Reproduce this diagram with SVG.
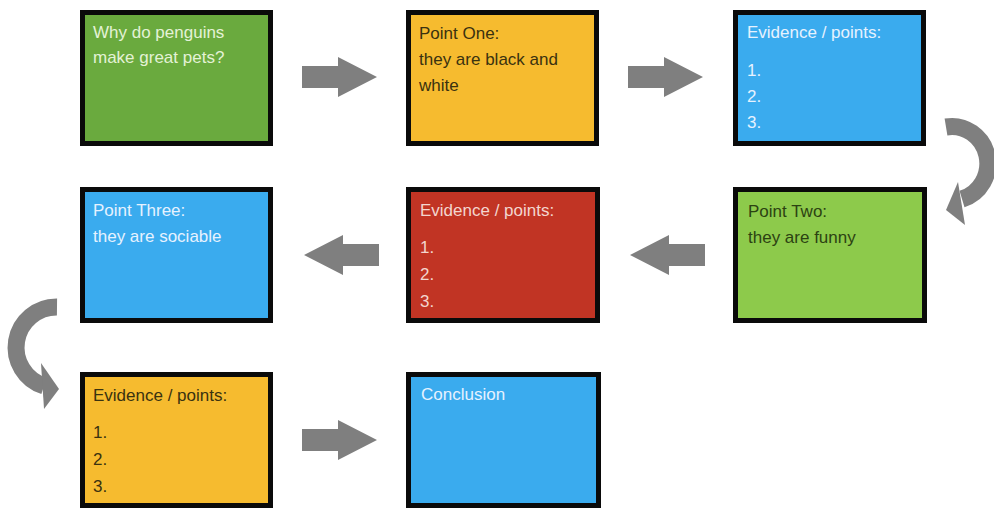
<svg xmlns="http://www.w3.org/2000/svg" width="994" height="531" viewBox="0 0 994 531">
  <style>
    .box { stroke: #0a0a0a; stroke-width: 5; }
    .t { font-family: "Liberation Sans", Arial, sans-serif; font-size: 17px; }
    .light { fill: #e6f2ff; }
    .dark { fill: #3a3210; }
    .arrow { fill: #7f7f7f; }
    .curve { fill: none; stroke: #7f7f7f; stroke-width: 17; }
  </style>
  <defs>
    <polygon id="arrowR" points="0,-11 36,-11 36,-20 75,0 36,20 36,11 0,11"/>
  </defs>
  <rect width="994" height="531" fill="#ffffff"/>

  <g id="connectors">
    <use href="#arrowR" class="arrow" transform="translate(302,77)"/>
    <use href="#arrowR" class="arrow" transform="translate(628,77)"/>
    <use href="#arrowR" class="arrow" transform="translate(379,255) scale(-1,1)"/>
    <use href="#arrowR" class="arrow" transform="translate(705,255) scale(-1,1)"/>
    <use href="#arrowR" class="arrow" transform="translate(302,440)"/>
    <!-- right curved arrow -->
    <path class="curve" d="M946,127 A36,37 0 0 1 962,199"/>
    <polygon class="arrow" points="958,182 946,210 965,225"/>
    <!-- left curved arrow -->
    <path class="curve" d="M57,307 A40.5,40.5 0 0 0 44,386"/>
    <polygon class="arrow" points="41,363 59,389 44,409"/>
  </g>

  <g id="node-question">
    <rect class="box" x="82.5" y="12.5" width="188" height="131" fill="#6aaa3e"/>
    <text class="t" x="93" y="38" fill="#e4f2d6">Why do penguins</text>
    <text class="t" x="93" y="63" fill="#e4f2d6">make great pets?</text>
  </g>

  <g id="node-point-one">
    <rect class="box" x="408.5" y="12.5" width="188" height="131" fill="#f6bb2f"/>
    <text class="t dark" x="419" y="39">Point One:</text>
    <text class="t dark" x="419" y="65">they are black and</text>
    <text class="t dark" x="419" y="91">white</text>
  </g>

  <g id="node-evidence-1">
    <rect class="box" x="735.5" y="12.5" width="188" height="131" fill="#3aabee"/>
    <text class="t light" x="747" y="38">Evidence / points:</text>
    <text class="t light" x="747" y="76">1.</text>
    <text class="t light" x="747" y="102">2.</text>
    <text class="t light" x="747" y="128">3.</text>
  </g>

  <g id="node-point-two">
    <rect class="box" x="735.5" y="189.5" width="189" height="131" fill="#8dca4b"/>
    <text class="t" x="748" y="217" fill="#2c4212">Point Two:</text>
    <text class="t" x="748" y="243" fill="#2c4212">they are funny</text>
  </g>

  <g id="node-evidence-2">
    <rect class="box" x="408.5" y="189.5" width="189" height="131" fill="#c13424"/>
    <text class="t" x="420" y="216" fill="#f3d6cf">Evidence / points:</text>
    <text class="t" x="420" y="253" fill="#f3d6cf">1.</text>
    <text class="t" x="420" y="280" fill="#f3d6cf">2.</text>
    <text class="t" x="420" y="307" fill="#f3d6cf">3.</text>
  </g>

  <g id="node-point-three">
    <rect class="box" x="82.5" y="189.5" width="188" height="131" fill="#3aabee"/>
    <text class="t light" x="93" y="216">Point Three:</text>
    <text class="t light" x="93" y="242">they are sociable</text>
  </g>

  <g id="node-evidence-3">
    <rect class="box" x="82.5" y="374.5" width="188" height="131" fill="#f6bb2f"/>
    <text class="t dark" x="93" y="401">Evidence / points:</text>
    <text class="t dark" x="93" y="438">1.</text>
    <text class="t dark" x="93" y="465">2.</text>
    <text class="t dark" x="93" y="492">3.</text>
  </g>

  <g id="node-conclusion">
    <rect class="box" x="408.5" y="374.5" width="190" height="131" fill="#3aabee"/>
    <text class="t light" x="421" y="400">Conclusion</text>
  </g>
</svg>
